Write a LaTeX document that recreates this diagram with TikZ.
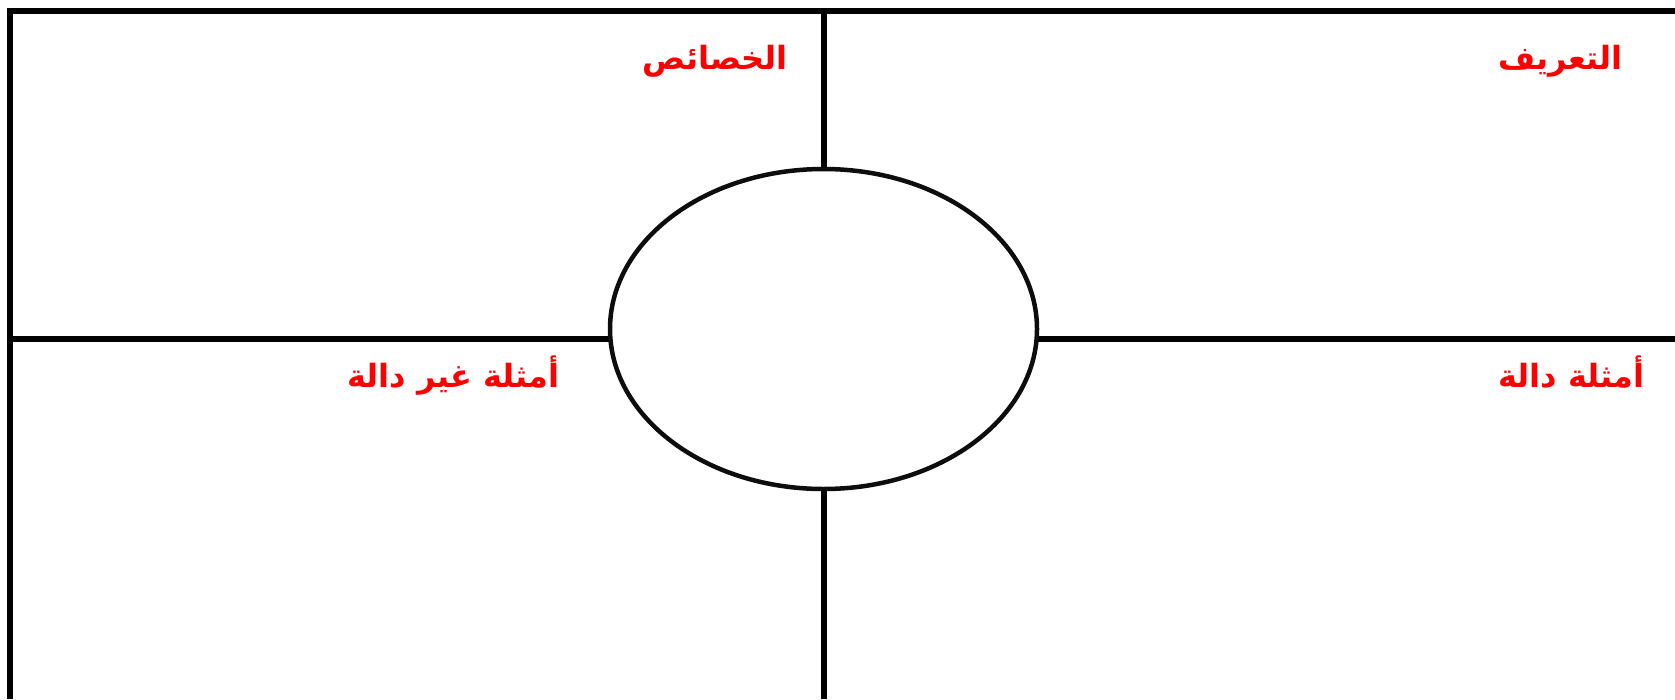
\documentclass[tikz,border=0pt]{standalone}
\usepackage{fontspec}
\usetikzlibrary{shapes.geometric}
\TeXXeTstate=1
\newfontfamily\arabicfont[Script=Arabic]{DejaVu Sans}
\tikzset{
  frameline/.style={line width=6pt, black},
  centreoval/.style={ellipse, draw=black!95, line width=4.5pt, fill=white, minimum width=427pt, minimum height=320pt, inner sep=0pt},
  lab/.style={text=red, font=\fontsize{32}{38}\selectfont\arabicfont\bfseries, inner sep=0pt, anchor=base east}
}
\begin{document}
\begin{tikzpicture}[x=1pt,y=-1pt]
\useasboundingbox (0,0) rectangle (1675,699);
\coordinate (tl) at (7,11);
\coordinate (tr) at (1675,11);
\coordinate (lt) at (10,8);
\coordinate (lb) at (10,699);
\coordinate (vt) at (824,11);
\coordinate (vb) at (824,699);
\coordinate (hl) at (10,339);
\coordinate (hr) at (1675,339);
\draw[frameline] (tl) -- (tr);
\draw[frameline] (lt) -- (lb);
\draw[frameline] (vt) -- (vb);
\draw[frameline] (hl) -- (hr);
\node[centreoval] (oval) at (823.5,329) {};
\node[lab] (def) at (1623,69) {\beginR التعريف\endR};
\node[lab] (prop) at (788,69) {\beginR الخصائص\endR};
\node[lab] (ex) at (1645,387) {\beginR أمثلة دالة\endR};
\node[lab] (nonex) at (560,387) {\beginR أمثلة غير دالة\endR};
\end{tikzpicture}
\end{document}
